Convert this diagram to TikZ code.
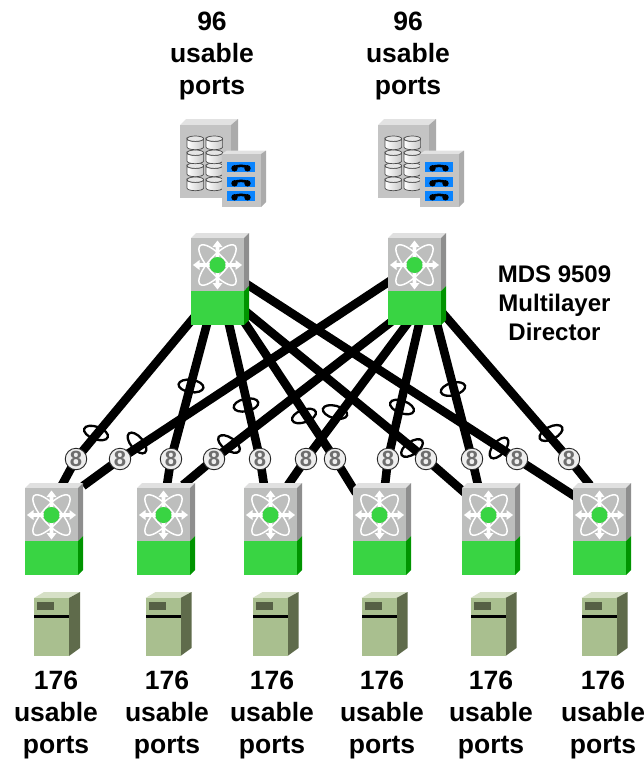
\documentclass[tikz,border=0pt]{standalone}
\usepackage{fontspec}
\setmainfont{Liberation Sans}
\usetikzlibrary{shapes.geometric}
\definecolor{swfront}{HTML}{BDBEBD}
\definecolor{swtop}{HTML}{E0E0E0}
\definecolor{swside}{HTML}{8E8E8E}
\definecolor{swgreen}{HTML}{39D443}
\definecolor{swdark}{HTML}{009400}
\definecolor{stfront}{HTML}{C4C4C4}
\definecolor{sttop}{HTML}{E2E2E2}
\definecolor{stside}{HTML}{ABABAB}
\definecolor{stblue}{HTML}{0A84FF}
\definecolor{svfront}{HTML}{A9BF8F}
\definecolor{svtop}{HTML}{D6E0C6}
\definecolor{svside}{HTML}{5F6B4B}
\definecolor{svwin}{HTML}{566045}
\definecolor{badge}{HTML}{EEEEEE}
\definecolor{badgetxt}{HTML}{6E6E6E}
\tikzset{
  x=1pt,y=-1pt,
  link/.style={line width=8.6pt,black,line join=round},
  bundle/.style={draw=black,line width=2.3pt,ellipse,minimum width=25pt,minimum height=12.5pt,inner sep=0pt},
  badgenode/.style={circle,draw=black!85,line width=0.9pt,fill=badge,minimum size=21.5pt,inner sep=0pt,text=badgetxt,font=\fontsize{22}{22}\selectfont\bfseries},
  biglabel/.style={align=center,font=\fontsize{26.5}{32}\selectfont\bfseries,inner sep=0pt},
  midlabel/.style={align=center,font=\fontsize{24}{29}\selectfont\bfseries,inner sep=0pt},
  devbox/.style={minimum width=53pt,minimum height=87pt,inner sep=0pt,anchor=north west},
  switchicon/.pic={
    \fill[swtop] (0,0) -- (5,-5) -- (58,-5) -- (53,0) -- cycle;
    \fill[swside] (53,0) -- (58,-5) -- (58,48) -- (53,53) -- cycle;
    \fill[swdark] (53,53) -- (58,48) -- (58,82) -- (53,87) -- cycle;
    \fill[swfront] (0,0) rectangle (53,53);
    \fill[swgreen] (0,53) rectangle (53,87);
    \begin{scope}[shift={(26.5,27)}]
      \draw[white,line width=1.5pt,rotate=48] (0,0) ellipse (26 and 9);
      \draw[white,line width=1.5pt,rotate=-48] (0,0) ellipse (26 and 9);
      \foreach \a in {0,90,180,270}{
        \begin{scope}[rotate=\a]
          \fill[white] (0,-1.9) -- (18,-1.9) -- (18,-5) -- (24.5,0) -- (18,5) -- (18,1.9) -- (0,1.9) -- cycle;
        \end{scope}
      }
      \fill[swgreen] (0,0) circle (8);
    \end{scope}
  },
  storageicon/.pic={
    \fill[sttop] (0,0) -- (6,-6) -- (58,-6) -- (51,0) -- cycle;
    \fill[stside] (51,0) -- (58,-6) -- (58,67) -- (51,73) -- cycle;
    \fill[stfront] (0,0) rectangle (51,73);
    \foreach \cx in {15.3,34.3}{
      \foreach \cy in {52,38,25,11}{
        \draw[black!70,line width=0.7pt,left color=white,right color=black!22]
          (\cx-8.3,\cy+2.7) -- (\cx-8.3,\cy+11) arc[start angle=180,end angle=360,x radius=8.3,y radius=-2.7]
          -- (\cx+8.3,\cy+2.7) arc[start angle=0,end angle=180,x radius=8.3,y radius=2.7] -- cycle;
        \draw[black!70,line width=0.7pt,fill=black!10] (\cx,\cy+2.7) ellipse (8.3 and 2.7);
      }
    }
    \begin{scope}[shift={(42,29)}]
      \fill[sttop] (0,0) -- (5,-3.5) -- (44,-3.5) -- (39,0) -- cycle;
      \fill[stside] (39,0) -- (44,-3.5) -- (44,48) -- (39,53) -- cycle;
      \fill[stfront] (0,0) rectangle (39,53);
      \foreach \by in {8,23,37}{
        \fill[stblue] (5,\by) rectangle (33,\by+9.7);
        \draw[black,line width=2.6pt] (12,\by+6.2) .. controls (13,\by+3) and (25,\by+3) .. (26,\by+6.2);
        \fill[black] (12.5,\by+6.3) circle (3.2) (25.5,\by+6.3) circle (3.2);
      }
    \end{scope}
  },
  servericon/.pic={
    \fill[svtop] (0,0) -- (10,-6) -- (46,-6) -- (35,0) -- cycle;
    \fill[svside] (35,0) -- (46,-6) -- (46,50) -- (35,58) -- cycle;
    \fill[svfront] (0,0) rectangle (35,58);
    \fill[svwin] (3,4) rectangle (20,12);
    \fill[black] (0,17) rectangle (35,19.5);
  },
}
\begin{document}
\begin{tikzpicture}
\useasboundingbox (0,0) rectangle (644,760);
% device placeholders
\foreach \n/\px in {T1/191,T2/388}{
  \node[devbox] (\n) at (\px,238) {};
}
\foreach \n/\px in {S1/25,S2/137,S3/244,S4/353,S5/462,S6/573}{
  \node[devbox] (\n) at (\px,488) {};
}
% badges
\foreach \n/\px in {a1/76,b1/120,a2/171,b2/214,a3/260,b3/306,a4/335,b4/388,a5/426,b5/472,a6/517,b6/569}{
  \coordinate (\n c) at (\px,459);
}
% links: top switch, badge, bottom switch
\foreach \n/\tx/\ty/\bx/\by in {
  a1/196/315/62/485, a2/208/320/167/485, a3/228/320/264/485, a4/243/320/356/493, a5/244/310/465/493, a6/245/283/576/497,
  b1/393/279/83/486, b2/400/315/183/485, b3/410/320/288/485, b4/420/320/385/485, b5/436/320/478/485, b6/440/310/590/485}{
  \coordinate (\n top) at (\tx,\ty);
  \coordinate (\n bot) at (\bx,\by);
  \draw[link] (\n top) -- (\n c) -- (\n bot);
}
% switches
\foreach \n in {T1,T2,S1,S2,S3,S4,S5,S6}{
  \pic at (\n.north west) {switchicon};
}
% storage
\pic at (180,125) {storageicon};
\pic at (378,125) {storageicon};
% servers
\foreach \px in {34,145.5,252.5,361.5,470.5,581.5}{
  \pic at (\px,598) {servericon};
}
% bundle rings
\foreach \n/\px/\py/\r in {
  e1/96/433/-20, e2/137/443/-50, e3/191/386/-8, e4/246/405/12, e5/229/444/-35, e6/304/416/20,
  e7/335/412/-15, e8/402/407/-20, e9/412/448/35, e10/453/389/15, e11/499/448/50, e12/551/433/27}{
  \node[bundle,rotate=\r] (\n) at (\px,\py) {};
}
% badges on top
\foreach \n in {a1,b1,a2,b2,a3,b3,a4,b4,a5,b5,a6,b6}{
  \node[badgenode] (\n) at (\n c) {8};
}
% labels
\node[biglabel] (topA) at (212,56) {96\\usable\\ports};
\node[biglabel] (topB) at (408,56) {96\\usable\\ports};
\node[midlabel] (mds) at (554.5,303.5) {MDS 9509\\Multilayer\\Director};
\foreach \n/\px in {p1/56,p2/167,p3/272,p4/382,p5/491,p6/603}{
  \node[biglabel] (\n) at (\px,715) {176\\usable\\ports};
}
\end{tikzpicture}
\end{document}
